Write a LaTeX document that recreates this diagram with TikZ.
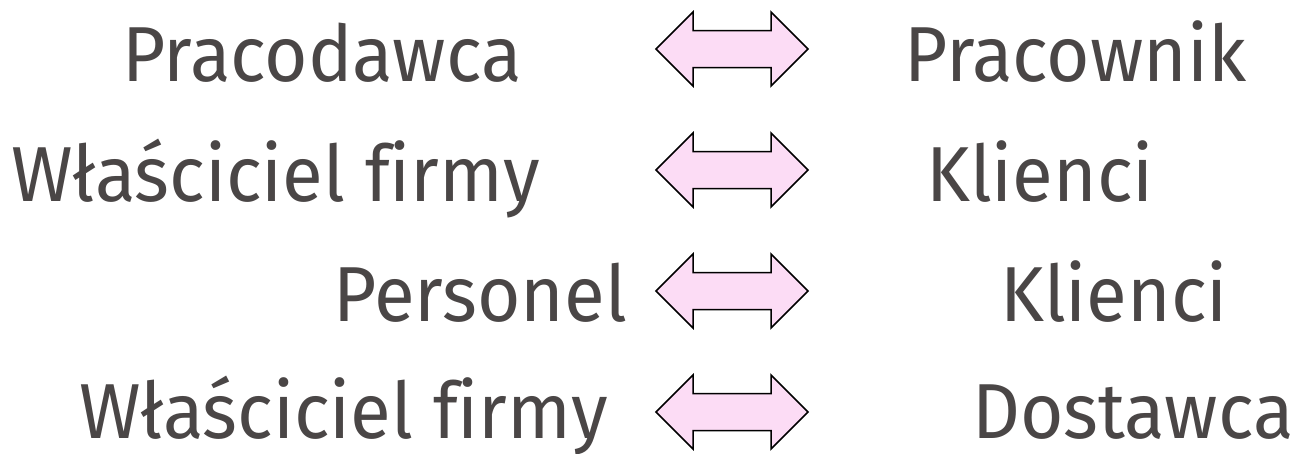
\documentclass[tikz,border=0pt]{standalone}
\usepackage{fontspec}
\setmainfont[Ligatures=NoCommon, FakeStretch=0.955]{Fira Sans}
\definecolor{txt}{RGB}{74,70,70}
\definecolor{arrfill}{RGB}{252,220,245}
\tikzset{
  lbl/.style={inner sep=0pt, text=txt, font=\fontsize{78}{90}\selectfont},
  arrowshape/.style={draw=black, fill=arrfill, line width=1.5pt, line join=miter},
}
\newcommand{\dblarr}[1]{%
  \draw[arrowshape] (656,#1) -- (693,#1-37) -- (693,#1-18.5) -- (771,#1-18.5) -- (771,#1-37)
    -- (808,#1) -- (771,#1+37) -- (771,#1+18.5) -- (693,#1+18.5) -- (693,#1+37) -- cycle;}
\begin{document}
\begin{tikzpicture}[x=1pt,y=-1pt]
\useasboundingbox (0,0) rectangle (1293,453);
\node[lbl, anchor=base west] (l1) at (122,81) {Pracodawca};
\node[lbl, anchor=base west] (l2) at (11,201) {Właściciel firmy};
\node[lbl, anchor=base west] (l3) at (333,321) {Personel};
\node[lbl, anchor=base west] (l4) at (79,438) {Właściciel firmy};
\node[lbl, anchor=base west] (r1) at (904,81) {Pracownik};
\node[lbl, anchor=base west] (r2) at (926,201) {Klienci};
\node[lbl, anchor=base west] (r3) at (1000,321) {Klienci};
\node[lbl, anchor=base west] (r4) at (972,438) {Dostawca};
\dblarr{49}
\dblarr{170}
\dblarr{291}
\dblarr{412}
\end{tikzpicture}
\end{document}
